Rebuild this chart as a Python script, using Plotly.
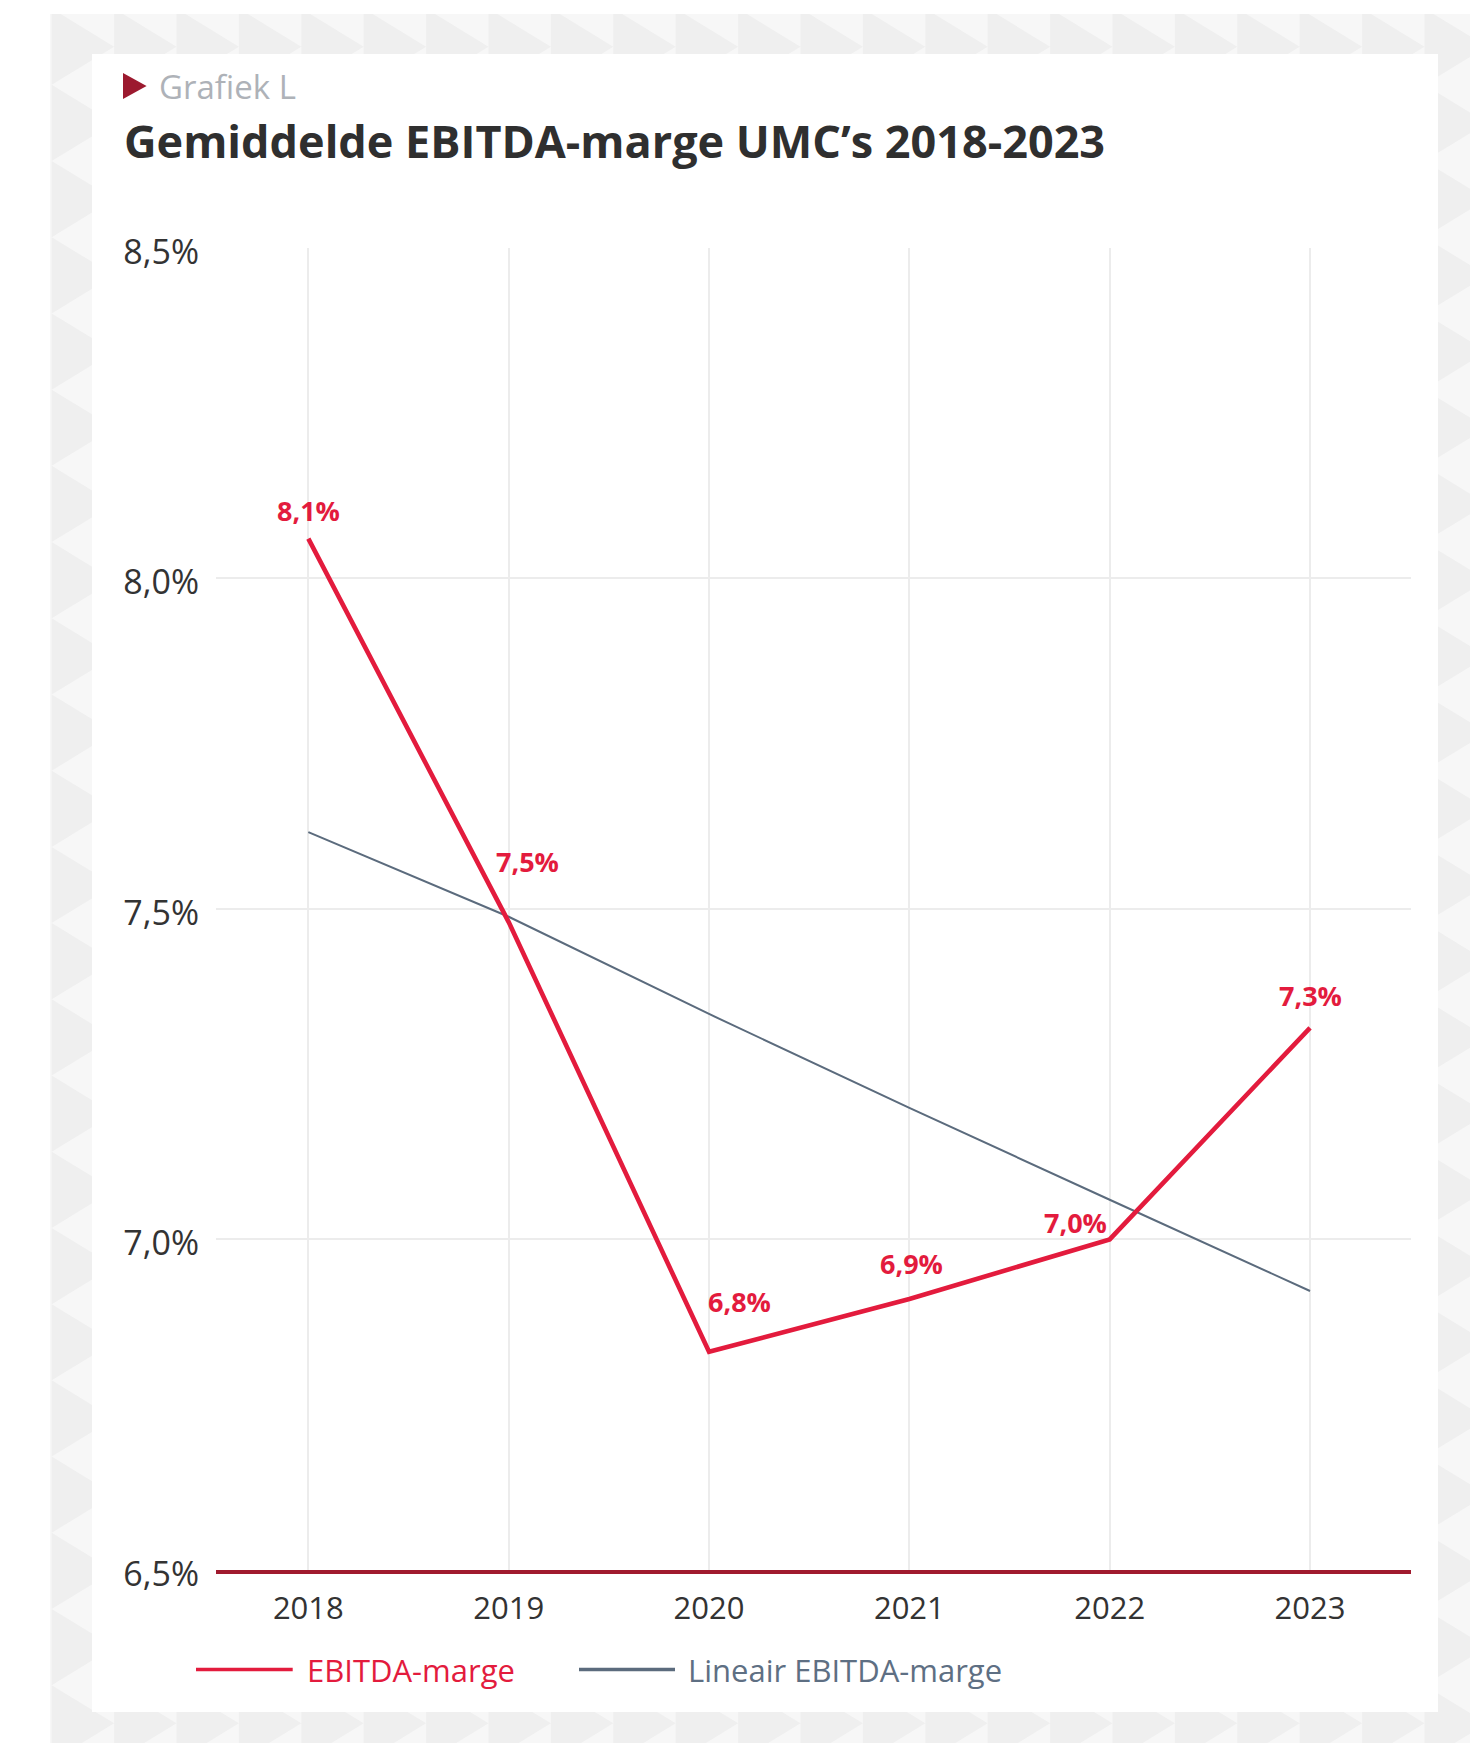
import plotly.graph_objects as go

# ---- data -------------------------------------------------------------
years = [2018, 2019, 2020, 2021, 2022, 2023]
ebitda_marge = [8.06, 7.48, 6.83, 6.91, 7.00, 7.32]          # % per jaar
lineair_marge = [7.616, 7.488, 7.341, 7.199, 7.060, 6.922]   # lineaire trend, %
y_tick_values = [6.5, 7.0, 7.5, 8.0, 8.5]
y_tick_labels = ["6,5%", "7,0%", "7,5%", "8,0%", "8,5%"]
series_names = ["EBITDA-marge", "Lineair EBITDA-marge"]

# ---- page geometry (pixels) ------------------------------------------
W, H = 1470, 1743
RED = "#e31b3d"
DARK_RED = "#a01a2e"
SLATE = "#5b6b7d"
TEXT = "#333333"
FONT = "Open Sans"


def px(x):
    return x / W


def py(y):
    return 1 - y / H


def nl(v):
    return f"{v:.1f}".replace(".", ",") + "%"


fig = go.Figure()

fig.add_trace(go.Scatter(
    x=years, y=lineair_marge, mode="lines", name=series_names[1],
    line=dict(color=SLATE, width=2), showlegend=False, hoverinfo="skip"))
fig.add_trace(go.Scatter(
    x=years, y=ebitda_marge, mode="lines", name=series_names[0],
    line=dict(color=RED, width=4.6), showlegend=False,
    hovertemplate="%{x}: %{y:.1f}%<extra></extra>"))

# ---- decorative triangle background ----------------------------------
TW, TH = 62.4, 76.21
x_start, tip0 = 51.7, 46.7
parts = []
col = 0
while x_start + col * TW < W + TW:
    x0 = x_start + col * TW
    k = -1
    while tip0 + k * TH - TH / 2 < H + TH:
        tip = tip0 + k * TH
        pts = [(x0, tip - TH / 2), (x0 + TW, tip), (x0, tip + TH / 2)]
        parts.append("M" + " L".join(f"{px(a):.5f},{py(b):.5f}" for a, b in pts) + " Z")
        k += 1
    col += 1

shapes = [
    dict(type="rect", xref="paper", yref="paper", layer="below",
         x0=px(50), x1=1, y0=0, y1=py(14), fillcolor="#f7f7f7", line_width=0),
    dict(type="path", xref="paper", yref="paper", layer="below",
         path=" ".join(parts), fillcolor="#efefef", line_width=0),
    # white page margins around the pattern
    dict(type="rect", xref="paper", yref="paper", layer="below",
         x0=0, x1=1, y0=py(14), y1=1, fillcolor="white", line_width=0),
    dict(type="rect", xref="paper", yref="paper", layer="below",
         x0=0, x1=px(50), y0=0, y1=1, fillcolor="white", line_width=0),
    # white card
    dict(type="rect", xref="paper", yref="paper", layer="below",
         x0=px(92), x1=px(1438), y0=py(1712), y1=py(54),
         fillcolor="white", line_width=0),
    # heading marker
    dict(type="path", xref="paper", yref="paper",
         path=f"M{px(123)},{py(73)} L{px(146.6)},{py(86)} L{px(123)},{py(99)} Z",
         fillcolor="#9c1a2f", line_width=0),
    # legend samples
    dict(type="line", xref="paper", yref="paper",
         x0=px(196), x1=px(292.7), y0=py(1669.5), y1=py(1669.5),
         line=dict(color=RED, width=3.5)),
    dict(type="line", xref="paper", yref="paper",
         x0=px(579), x1=px(675), y0=py(1669.5), y1=py(1669.5),
         line=dict(color=SLATE, width=3.5)),
]

annotations = [
    dict(text="Grafiek L", x=px(157), y=py(86.5), xref="paper", yref="paper",
         xanchor="left", yanchor="middle", showarrow=False,
         font=dict(family=FONT, size=33, color="#aeb2b8")),
    dict(text="<b>Gemiddelde EBITDA-marge UMC’s 2018-2023</b>", x=px(122), y=py(141),
         xref="paper", yref="paper", xanchor="left", yanchor="middle", showarrow=False,
         font=dict(family=FONT, size=45, color="#2f2f2f")),
    dict(text=series_names[0], x=px(305), y=py(1670), xref="paper", yref="paper",
         xanchor="left", yanchor="middle", showarrow=False,
         font=dict(family=FONT, size=31, color=RED)),
    dict(text=series_names[1], x=px(686), y=py(1670), xref="paper", yref="paper",
         xanchor="left", yanchor="middle", showarrow=False,
         font=dict(family=FONT, size=31, color="#5e6f83")),
]

# value labels, offset from their points (pixels)
label_shift = [(0, 28), (19, 61), (30, 50), (2, 35), (-34, 17), (0, 32)]
for yr, v, (dx, dy) in zip(years, ebitda_marge, label_shift):
    annotations.append(dict(
        x=yr, y=v, xref="x", yref="y", text=f"<b>{nl(v)}</b>", showarrow=False,
        xanchor="center", yanchor="middle", xshift=dx, yshift=dy,
        font=dict(family=FONT, size=27, color=RED)))

fig.update_layout(
    template="none",
    width=W, height=H, margin=dict(l=0, r=0, t=0, b=0, pad=0, autoexpand=False),
    paper_bgcolor="white", plot_bgcolor="rgba(0,0,0,0)",
    shapes=shapes, annotations=annotations, showlegend=False,
    font=dict(family=FONT, color=TEXT),
    xaxis=dict(domain=[px(216), px(1411)], range=[2017.539, 2023.504],
               tickvals=years, ticktext=[str(y) for y in years], automargin=False,
               showgrid=True, gridcolor="#ececec", gridwidth=1.5,
               showline=True, linecolor=DARK_RED, linewidth=4,
               zeroline=False, ticks="", ticklabelstandoff=8,
               tickfont=dict(family=FONT, size=31, color=TEXT), fixedrange=True),
    yaxis=dict(domain=[py(1570), py(247.7)], range=[6.5, 8.5],
               tickvals=y_tick_values, ticktext=y_tick_labels, automargin=False,
               showgrid=True, gridcolor="#ececec", gridwidth=1.5,
               zeroline=False, showline=False, ticks="", ticklabelstandoff=16,
               ticklabelshift=4,
               tickfont=dict(family=FONT, size=34, color=TEXT), fixedrange=True),
)

fig.write_html("out.html")
